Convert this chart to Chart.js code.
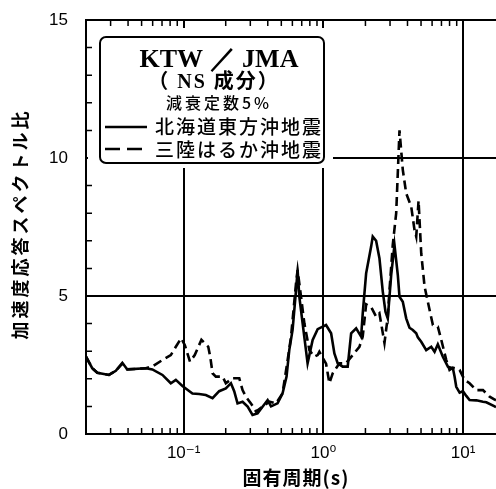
<!DOCTYPE html>
<html>
<head>
<meta charset="utf-8">
<script src="https://cdn.jsdelivr.net/npm/chart.js@4"></script>
<style>
html, body { margin: 0; padding: 0; background: #fff; }
#wrap { width: 496px; height: 489px; }
</style>
</head>
<body>
<div id="wrap"><canvas id="spec"></canvas></div>
<script>
// 北海道東方沖地震 (solid)
var periodsA = [0.020, 0.0222, 0.0241, 0.0292, 0.0327, 0.0364, 0.0395, 0.0536, 0.0597, 0.0705,
    0.0809, 0.0879, 0.098, 0.1156, 0.129, 0.144, 0.161, 0.1796, 0.2004, 0.218,
    0.230, 0.243, 0.264, 0.287, 0.311, 0.338, 0.367, 0.399, 0.422, 0.470,
    0.510, 0.545, 0.570, 0.602, 0.637, 0.654, 0.673, 0.731, 0.771, 0.838,
    0.910, 0.989, 1.045, 1.136, 1.199, 1.267, 1.375, 1.493, 1.580, 1.716,
    1.863, 1.913, 2.023, 2.197, 2.256, 2.385, 2.519, 2.662, 2.782, 2.890,
    3.057, 3.228, 3.410, 3.506, 3.702, 3.915, 4.133, 4.366, 4.619, 4.744,
    5.015, 5.446, 5.916, 6.250, 6.595, 7.163, 7.784, 8.452, 8.690, 8.933,
    9.443, 9.971, 10.54, 11.13, 12.44, 13.87, 14.66, 16.82, 17.2];
var ratiosA = [2.80, 2.38, 2.22, 2.14, 2.29, 2.58, 2.34, 2.38, 2.34, 2.14,
    1.84, 1.96, 1.74, 1.47, 1.45, 1.41, 1.30, 1.55, 1.65, 1.84,
    1.55, 1.11, 1.17, 0.99, 0.69, 0.75, 0.99, 1.23, 1.00, 1.11,
    1.47, 2.08, 3.04, 3.77, 5.20, 5.94, 4.97, 3.50, 2.56, 3.41,
    3.80, 3.89, 3.95, 3.65, 2.92, 2.56, 2.44, 2.44, 3.65, 3.83,
    3.53, 4.37, 5.82, 6.79, 7.15, 7.00, 6.37, 5.16, 4.43, 4.19,
    5.76, 6.85, 5.76, 4.97, 4.79, 4.19, 3.85, 3.77, 3.65, 3.50,
    3.34, 3.04, 3.16, 2.98, 3.25, 2.80, 2.44, 2.38, 2.08, 1.71,
    1.50, 1.55, 1.38, 1.23, 1.22, 1.17, 1.15, 1.00, 0.97];

// 三陸はるか沖地震 (dashed)
var periodsB = [0.020, 0.0222, 0.0241, 0.0292, 0.0327, 0.0364, 0.0395, 0.0536, 0.0597, 0.0705,
    0.0809, 0.0879, 0.096, 0.102, 0.111, 0.120, 0.134, 0.150, 0.155, 0.161,
    0.170, 0.190, 0.2004, 0.224, 0.250, 0.264, 0.279, 0.303, 0.330, 0.367,
    0.410, 0.458, 0.510, 0.555, 0.587, 0.637, 0.654, 0.692, 0.731, 0.794,
    0.862, 0.910, 0.936, 1.045, 1.104, 1.166, 1.302, 1.45, 1.622, 1.811,
    1.913, 2.023, 2.197, 2.385, 2.519, 2.737, 2.890, 2.972, 3.138, 3.320,
    3.506, 3.702, 3.915, 4.253, 4.49, 4.619, 4.80, 5.015, 5.30, 5.754,
    6.079, 6.595, 6.98, 7.580, 8.0, 8.452, 9.184, 9.44, 10.25, 11.13,
    12.44, 13.87, 15.49, 16.82, 17.2];
var ratiosB = [2.80, 2.38, 2.22, 2.14, 2.29, 2.55, 2.34, 2.38, 2.45, 2.68,
    2.86, 3.16, 3.47, 3.22, 2.62, 2.86, 3.41, 3.16, 2.80, 2.20,
    2.08, 2.08, 1.84, 2.02, 2.02, 1.59, 1.35, 1.11, 0.81, 0.99,
    1.17, 1.11, 1.47, 2.68, 3.53, 5.46, 5.94, 4.97, 4.01, 3.04,
    2.80, 2.86, 2.98, 2.55, 1.84, 2.20, 2.56, 2.56, 2.86, 3.16,
    3.53, 4.70, 4.60, 4.25, 4.37, 3.30, 4.25, 5.20, 6.85, 8.00,
    11.0, 9.57, 8.72, 8.24, 7.39, 7.15, 8.45, 6.55, 5.34, 4.50,
    3.95, 3.89, 3.41, 2.68, 2.32, 2.40, 2.35, 2.32, 1.96, 1.84,
    1.59, 1.59, 1.35, 1.25, 1.22];

var seriesNames = ['北海道東方沖地震', '三陸はるか沖地震'];
var xTicks = [0.1, 1, 10];
var xTickLabels = ['10⁻¹', '10⁰', '10¹'];
var yTicks = [0, 5, 10, 15];
var xTitle = '固有周期(s)';
var yTitle = '加速度応答スペクトル比';

function toPoints(xs, ys) {
    return xs.map(function(x, i) { return { x: x, y: ys[i] }; });
}

// inner ticks, legend box and axis titles
var decor = {
    id: 'decor',
    afterDatasetsDraw: function(chart) {
        var ctx = chart.ctx;
        var a = chart.chartArea;
        var xs = chart.scales.x, ys = chart.scales.y;
        ctx.save();

        // white area behind the legend box
        ctx.fillStyle = '#fff';
        ctx.fillRect(a.left + 2, a.top + 8, 333 - a.left - 2, 168 - a.top - 8);

        ctx.strokeStyle = '#000';
        ctx.lineWidth = 1.5;
        ctx.beginPath();
        for (var k = -2; k <= 1; k++) {
            for (var d = 2; d <= 9; d++) {
                var v = d * Math.pow(10, k);
                if (v <= xs.min || v >= xs.max) continue;
                var px = xs.getPixelForValue(v);
                ctx.moveTo(px, a.bottom); ctx.lineTo(px, a.bottom - 6);
                ctx.moveTo(px, a.top); ctx.lineTo(px, a.top + 6);
            }
        }
        for (var j = 1; j < 15; j++) {
            if (j % 5 === 0) continue;
            var py = ys.getPixelForValue(j);
            ctx.moveTo(a.left, py); ctx.lineTo(a.left + 6, py);
        }
        ctx.stroke();

        // legend box
        ctx.lineWidth = 2;
        ctx.beginPath();
        ctx.roundRect(100, 37, 224, 126, 6);
        ctx.fillStyle = '#fff';
        ctx.fill();
        ctx.stroke();

        ctx.fillStyle = '#000';
        ctx.textAlign = 'center';
        ctx.textBaseline = 'alphabetic';
        ctx.font = "bold 26px 'Liberation Serif', serif";
        ctx.fillText('KTW ／ JMA', 219, 67);
        ctx.font = "bold 20px 'Liberation Serif', 'Noto Sans CJK JP', serif";
        ctx.letterSpacing = '2px';
        ctx.fillText('（ NS 成分）', 214, 88);
        ctx.font = "500 16px 'Noto Sans CJK JP', sans-serif";
        ctx.letterSpacing = '3px';
        ctx.fillText('減衰定数5%', 219, 109);

        ctx.textAlign = 'left';
        ctx.font = "500 19px 'Noto Sans CJK JP', sans-serif";
        ctx.letterSpacing = '2px';
        ctx.fillText(seriesNames[0], 155, 134);
        ctx.fillText(seriesNames[1], 155, 157);
        ctx.lineWidth = 2.5;
        ctx.beginPath();
        ctx.moveTo(105, 127); ctx.lineTo(147, 127);
        ctx.stroke();
        ctx.setLineDash([15, 7]);
        ctx.beginPath();
        ctx.moveTo(105, 149); ctx.lineTo(144, 149);
        ctx.stroke();
        ctx.setLineDash([]);

        // axis titles
        ctx.textAlign = 'center';
        ctx.textBaseline = 'middle';
        ctx.font = "bold 19px 'Noto Sans CJK JP', sans-serif";
        ctx.letterSpacing = '1px';
        ctx.fillText(xTitle, 296, 478);
        ctx.translate(20, 224);
        ctx.rotate(-Math.PI / 2);
        ctx.font = "bold 18px 'Noto Sans CJK JP', sans-serif";
        ctx.letterSpacing = '3px';
        ctx.fillText(yTitle, 0, 0);
        ctx.restore();
    }
};

new Chart(document.getElementById('spec'), {
    type: 'line',
    data: {
        datasets: [{
            label: seriesNames[0],
            data: toPoints(periodsA, ratiosA),
            borderColor: '#000',
            borderWidth: 2.6,
            pointRadius: 0,
            fill: false,
            tension: 0
        }, {
            label: seriesNames[1],
            data: toPoints(periodsB, ratiosB),
            borderColor: '#000',
            borderWidth: 2.6,
            borderDash: [9, 5],
            pointRadius: 0,
            fill: false,
            tension: 0
        }]
    },
    options: {
        responsive: true,
        maintainAspectRatio: false,
        animation: false,
        layout: { padding: { top: 20, right: 0, bottom: 0, left: 0 } },
        plugins: { legend: { display: false }, tooltip: { enabled: false } },
        scales: {
            x: {
                type: 'logarithmic',
                min: 0.02,
                max: 17.2,
                afterBuildTicks: function(s) {
                    s.ticks = xTicks.map(function(v) { return { value: v }; });
                },
                afterFit: function(s) {
                    s.height = 55;
                    s.paddingLeft = 0;
                    s.paddingRight = 0;
                },
                ticks: {
                    autoSkip: false,
                    maxRotation: 0,
                    padding: 9,
                    color: '#000',
                    font: { family: "'Liberation Sans', 'DejaVu Sans', sans-serif", size: 17 },
                    callback: function(v) {
                        return xTickLabels[xTicks.indexOf(v)];
                    }
                },
                grid: { color: '#000', lineWidth: 2, drawTicks: false },
                border: { color: '#000', width: 2 }
            },
            y: {
                type: 'linear',
                min: 0,
                max: 15,
                afterBuildTicks: function(s) {
                    s.ticks = yTicks.map(function(v) { return { value: v }; });
                },
                afterFit: function(s) {
                    s.width = 86;
                    s.paddingTop = 0;
                    s.paddingBottom = 0;
                },
                ticks: {
                    padding: 18,
                    color: '#000',
                    font: { family: "'Liberation Sans', sans-serif", size: 17 }
                },
                grid: { color: '#000', lineWidth: 2, drawTicks: false },
                border: { color: '#000', width: 2 }
            }
        }
    },
    plugins: [decor]
});
</script>
</body>
</html>
